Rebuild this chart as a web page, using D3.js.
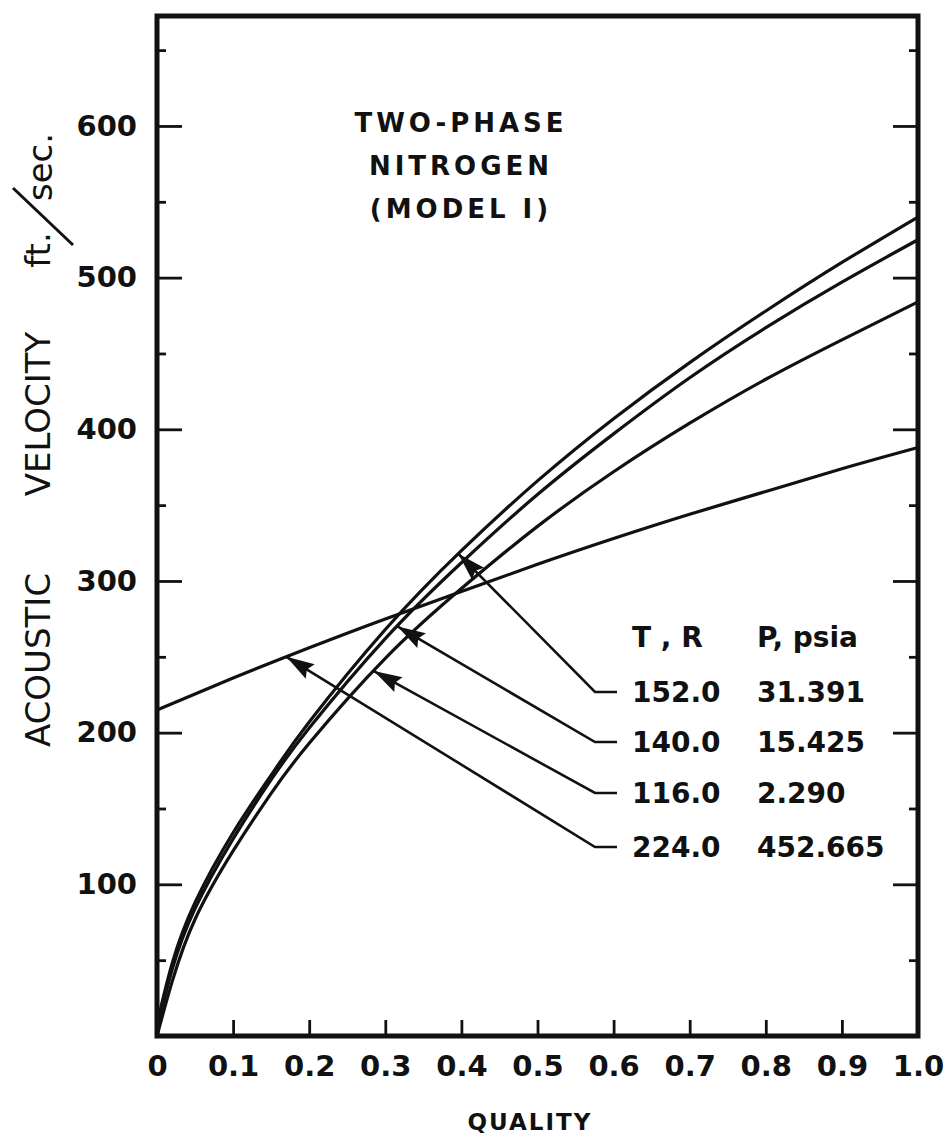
<!DOCTYPE html>
<html>
<head>
<meta charset="utf-8">
<script src="https://cdn.jsdelivr.net/npm/d3@7"></script>
<style>
  body { margin: 0; background: #fff; }
  svg text { font-family: "DejaVu Sans", sans-serif; fill: #111; }
</style>
</head>
<body>
<svg id="chart" width="949" height="1137"></svg>
<script>
// quality (x) grid for the three rising curves
const quality = [0, 0.02, 0.05, 0.1, 0.15, 0.2, 0.3, 0.4, 0.5, 0.6, 0.7, 0.8, 0.9, 1.0];
const v152 = [8, 48, 88, 134, 172, 207, 268, 320, 366, 407, 444, 478, 510, 540];
const v140 = [4, 44, 84, 130, 169, 203, 262, 312, 357, 397, 434, 467, 497, 525];
const v116 = [0, 36, 77, 122, 160, 193, 249, 295, 336, 372, 404, 433, 459, 484];
// the flatter high-pressure curve
const quality224 = [0, 0.1, 0.2, 0.3, 0.4, 0.5, 0.6, 0.7, 0.8, 0.9, 1.0];
const v224 = [215, 236, 256, 275, 293, 311, 328, 344, 359, 374, 388];

const tempR = ['152.0', '140.0', '116.0', '224.0'];
const pressPsia = ['31.391', '15.425', '2.290', '452.665'];
// where each leader arrow touches its curve (quality value)
const arrowQ = [0.396, 0.316, 0.285, 0.17];

const xTicks = [0, 0.1, 0.2, 0.3, 0.4, 0.5, 0.6, 0.7, 0.8, 0.9, 1.0];
const xTickLabels = ['0', '0.1', '0.2', '0.3', '0.4', '0.5', '0.6', '0.7', '0.8', '0.9', '1.0'];
const yMajor = [100, 200, 300, 400, 500, 600];
const yMinor = [50, 150, 250, 350, 450, 550, 650];

const svg = d3.select('#chart');
const pLeft = 157, pRight = 918, pTop = 16, pBottom = 1036;

const x = d3.scaleLinear().domain([0, 1]).range([pLeft, pRight]);
const y = d3.scaleLinear().domain([0, 672.5]).range([pBottom, pTop]);

// series table
const series = [
  { t: tempR[0], xs: quality, ys: v152 },
  { t: tempR[1], xs: quality, ys: v140 },
  { t: tempR[2], xs: quality, ys: v116 },
  { t: tempR[3], xs: quality224, ys: v224 }
];

// value of a curve at quality q (linear between read points)
const valueAt = (s, q) => {
  const i = Math.max(1, d3.bisectLeft(s.xs, q));
  const t = (q - s.xs[i - 1]) / (s.xs[i] - s.xs[i - 1]);
  return s.ys[i - 1] + t * (s.ys[i] - s.ys[i - 1]);
}

const ink = '#111';

// axes: ticks point inward
svg.append('g').attr('transform', `translate(${pLeft},0)`)
  .call(d3.axisLeft(y).tickValues(yMajor).tickSize(-25).tickPadding(20));
svg.append('g').attr('transform', `translate(${pLeft},0)`)
  .call(d3.axisLeft(y).tickValues(yMinor).tickSize(-9).tickFormat(''));
svg.append('g').attr('transform', `translate(${pRight},0)`)
  .call(d3.axisRight(y).tickValues(yMajor).tickSize(-25).tickFormat(''));
svg.append('g').attr('transform', `translate(${pRight},0)`)
  .call(d3.axisRight(y).tickValues(yMinor).tickSize(-9).tickFormat(''));
svg.append('g').attr('transform', `translate(0,${pBottom})`)
  .call(d3.axisBottom(x).tickValues(xTicks).tickSize(-16).tickPadding(19)
    .tickFormat((d, i) => xTickLabels[i]));

svg.selectAll('.domain').remove();
svg.selectAll('.tick line').attr('stroke', ink).attr('stroke-width', 2.8);
svg.selectAll('.tick text')
  .style('font-family', '"DejaVu Sans", sans-serif')
  .style('font-size', '29px')
  .style('font-weight', 'bold')
  .attr('fill', ink);

// frame
svg.append('rect')
  .attr('x', pLeft).attr('y', pTop)
  .attr('width', pRight - pLeft).attr('height', pBottom - pTop)
  .attr('fill', 'none').attr('stroke', ink).attr('stroke-width', 5);

// curves
const line = d3.line().x(d => x(d[0])).y(d => y(d[1])).curve(d3.curveNatural);
svg.append('g').selectAll('path')
  .data(series)
  .join('path')
  .attr('d', s => line(s.xs.map((q, i) => [q, s.ys[i]])))
  .attr('fill', 'none')
  .attr('stroke', ink)
  .attr('stroke-width', 3.2);

// arrow head marker
svg.append('defs').append('marker')
  .attr('id', 'head')
  .attr('markerUnits', 'userSpaceOnUse')
  .attr('markerWidth', 32).attr('markerHeight', 22)
  .attr('viewBox', '-30 -11 32 22')
  .attr('refX', 0).attr('refY', 0)
  .attr('orient', 'auto')
  .append('path')
  .attr('d', 'M0,0 L-28,-8.5 L-24,0 L-28,8.5 Z')
  .attr('fill', ink);

// legend block
const rowY = [692, 742, 793, 847];
const leadX0 = 595, leadX1 = 617, colT = 632, colP = 757;

svg.append('text').attr('x', colT).attr('y', 637).attr('dy', '0.36em')
  .style('font-size', '28px').style('font-weight', 'bold').text('T , R');
svg.append('text').attr('x', colP).attr('y', 637).attr('dy', '0.36em')
  .style('font-size', '28px').style('font-weight', 'bold').text('P, psia');

series.forEach((s, i) => {
  const tip = [x(arrowQ[i]), y(valueAt(s, arrowQ[i]))];
  svg.append('path')
    .attr('d', `M${leadX1},${rowY[i]} L${leadX0},${rowY[i]} L${tip[0]},${tip[1]}`)
    .attr('fill', 'none').attr('stroke', ink).attr('stroke-width', 2.6)
    .attr('marker-end', 'url(#head)');
  svg.append('text').attr('x', colT).attr('y', rowY[i]).attr('dy', '0.36em')
    .style('font-size', '28px').style('font-weight', 'bold').text(tempR[i]);
  svg.append('text').attr('x', colP).attr('y', rowY[i]).attr('dy', '0.36em')
    .style('font-size', '28px').style('font-weight', 'bold').text(pressPsia[i]);
});

// title
const title = ['TWO-PHASE', 'NITROGEN', '(MODEL I)'];
svg.append('g').selectAll('text')
  .data(title)
  .join('text')
  .attr('x', 461).attr('y', (d, i) => 132 + i * 43)
  .attr('text-anchor', 'middle')
  .style('font-size', '26px').style('font-weight', 'bold')
  .style('letter-spacing', '4px')
  .text(d => d);

// x axis title
svg.append('text')
  .attr('x', 530).attr('y', 1130)
  .attr('text-anchor', 'middle')
  .style('font-size', '23px').style('font-weight', 'bold')
  .style('letter-spacing', '2px')
  .text('QUALITY');

// y axis title, rotated
const yt = svg.append('g').attr('transform', 'translate(50,0) rotate(-90)');
yt.append('text').attr('x', -660).attr('text-anchor', 'middle')
  .style('font-size', '34px').text('ACOUSTIC');
yt.append('text').attr('x', -414).attr('text-anchor', 'middle')
  .style('font-size', '34px').text('VELOCITY');
yt.append('text').attr('x', -250).attr('text-anchor', 'middle')
  .style('font-size', '34px').text('ft.');
yt.append('text').attr('x', -167).attr('y', 2).attr('text-anchor', 'middle')
  .style('font-size', '34px').text('sec.');
yt.append('line')
  .attr('x1', -188).attr('y1', -37).attr('x2', -245).attr('y2', 23)
  .attr('stroke', ink).attr('stroke-width', 3);
</script>
</body>
</html>
